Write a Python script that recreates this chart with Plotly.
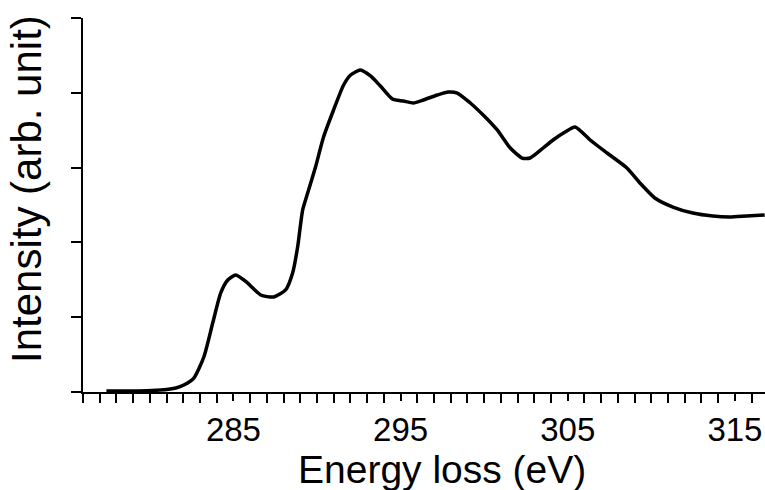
import plotly.graph_objects as go

# Energy loss (eV) and intensity (arb. unit)
energy = [277.4, 278.9, 280.1, 281.0, 281.55, 282.03, 282.63, 283.23, 283.76, 284.24,
          284.66, 285.14, 285.85, 286.63, 287.41, 288.12, 288.54, 288.84, 289.14, 289.44,
          289.91, 290.39, 290.99, 291.59, 292.01, 292.60, 293.20, 293.79, 294.51, 295.17,
          295.76, 296.36, 297.20, 297.85, 298.39, 299.17, 299.94, 300.78, 301.56, 302.27,
          302.75, 303.53, 304.12, 304.84, 305.44, 306.34, 307.35, 308.54, 309.32, 310.21,
          311.29, 312.48, 313.67, 314.69, 315.70, 316.78]
intensity = [0.013, 0.013, 0.02, 0.033, 0.053, 0.094, 0.187, 0.468, 0.922, 1.324,
             1.497, 1.564, 1.457, 1.297, 1.270, 1.364, 1.591, 1.939, 2.433, 2.660,
             3.008, 3.409, 3.770, 4.104, 4.238, 4.305, 4.225, 4.091, 3.917, 3.890,
             3.864, 3.904, 3.971, 4.011, 3.997, 3.864, 3.703, 3.503, 3.262, 3.128,
             3.128, 3.262, 3.369, 3.476, 3.543, 3.369, 3.195, 2.995, 2.794, 2.594,
             2.473, 2.393, 2.353, 2.340, 2.353, 2.366]

x_range = [276, 316.8]
x_title = "Energy loss (eV)"
y_title = "Intensity (arb. unit)"

FONT = "Liberation Sans, Arial, sans-serif"

fig = go.Figure()
fig.add_trace(go.Scatter(
    x=energy, y=intensity, mode="lines",
    line=dict(color="black", width=3.5, shape="spline", smoothing=0.6),
    showlegend=False, hoverinfo="skip",
))

fig.update_layout(
    width=765, height=490,
    margin=dict(l=83, r=0, t=18, b=98),
    paper_bgcolor="white", plot_bgcolor="white",
    font=dict(family=FONT, color="black"),
    xaxis=dict(
        range=x_range, showgrid=False, zeroline=False,
        showline=True, linecolor="black", linewidth=2,
        ticks="outside", tickmode="linear", tick0=285, dtick=10,
        ticklen=7, tickwidth=2, tickcolor="black",
        tickfont=dict(size=33, family=FONT, color="black"),
        minor=dict(ticks="outside", dtick=1, tick0=285, ticklen=9,
                   tickwidth=1.8, tickcolor="black", showgrid=False),
    ),
    # overlay axis that draws only the long major ticks
    xaxis2=dict(
        range=x_range, overlaying="x", anchor="y", side="bottom",
        showgrid=False, zeroline=False, showline=False,
        ticks="outside", tickmode="linear", tick0=285, dtick=10,
        ticklen=16, tickwidth=2, tickcolor="black", showticklabels=False,
    ),
    yaxis=dict(
        range=[0, 5.0], showgrid=False, zeroline=False,
        showline=True, linecolor="black", linewidth=2,
        ticks="outside", tickmode="linear", tick0=0, dtick=1,
        ticklen=10, tickwidth=2, tickcolor="black",
        showticklabels=False,
    ),
    annotations=[
        dict(text=x_title, xref="paper", yref="paper",
             x=0.5257, y=-0.208, xanchor="center", yanchor="middle",
             showarrow=False, font=dict(size=39, family=FONT, color="black")),
        dict(text=y_title, xref="paper", yref="paper", textangle=-90,
             x=-0.082, y=0.543, xanchor="center", yanchor="middle",
             showarrow=False, font=dict(size=42, family=FONT, color="black")),
    ],
)

fig.write_html("out.html")
